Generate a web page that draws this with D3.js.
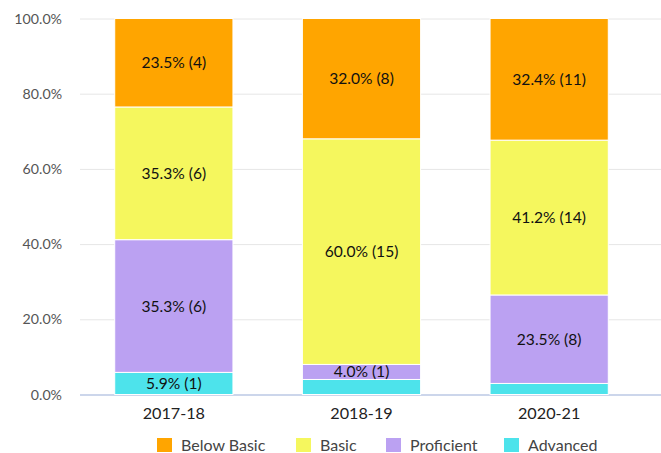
<!DOCTYPE html>
<html>
<head>
<meta charset="utf-8">
<script src="https://cdn.jsdelivr.net/npm/d3@7"></script>
<style>
  body { margin: 0; background: #fff; }
  svg { font-family: Lato, "Open Sans", sans-serif; display: block; }
</style>
</head>
<body>
<svg width="661" height="453"></svg>
<script>
const YEARS = ['2017-18', '2018-19', '2020-21'];
const LEVELS = ['Below Basic', 'Basic', 'Proficient', 'Advanced'];
// student counts per level, per year
const BELOW_BASIC = [4, 8, 11];
const BASIC = [6, 15, 14];
const PROFICIENT = [6, 1, 8];
const ADVANCED = [1, 1, 1];
const Y_TICKS = [0, 0.2, 0.4, 0.6, 0.8, 1];
const COLORS = ['#FFA500', '#F5F75E', '#BBA1F2', '#4DE3EB'];

const counts = { 'Below Basic': BELOW_BASIC, 'Basic': BASIC, 'Proficient': PROFICIENT, 'Advanced': ADVANCED };

const rows = YEARS.map((yr, i) => {
    const row = { year: yr };
    let total = 0;
    LEVELS.forEach(l => { row[l] = counts[l][i]; total += counts[l][i]; });
    row.total = total;
    LEVELS.forEach(l => { row[l] = row[l] / total; });
    return row;
});

const svg = d3.select('svg');
const PLOT = { left: 80, right: 661, top: 18.5, bottom: 394.5 };

const x = d3.scaleBand().domain(YEARS).range([PLOT.left, 643]).paddingInner(0.37).paddingOuter(0.185);
const y = d3.scaleLinear().domain([0, 1]).range([PLOT.bottom, PLOT.top]);

// gridlines
svg.append('g')
    .selectAll('line')
    .data(Y_TICKS)
    .enter()
    .append('line')
    .attr('x1', PLOT.left)
    .attr('x2', PLOT.right)
    .attr('y1', d => y(d) + 0.5)
    .attr('y2', d => y(d) + 0.5)
    .attr('stroke', d => d === 0 ? '#ccd6eb' : '#e6e6e6')
    .attr('stroke-width', d => d === 0 ? 2 : 1);

// y axis labels
svg.append('g')
    .selectAll('text')
    .data(Y_TICKS)
    .enter()
    .append('text')
    .attr('x', 62)
    .attr('y', d => y(d) + 5)
    .attr('text-anchor', 'end')
    .attr('font-size', 14.2)
    .attr('fill', '#555')
    .text(d => d3.format('.1%')(d));

// stacked bars, bottom = Advanced
const stack = d3.stack().keys(LEVELS.slice().reverse());
const series = stack(rows);

const groups = svg.append('g')
    .selectAll('g')
    .data(series)
    .enter()
    .append('g')
    .attr('fill', d => COLORS[LEVELS.indexOf(d.key)]);

groups.selectAll('rect')
    .data(d => d)
    .enter()
    .append('rect')
    .attr('x', d => x(d.data.year))
    .attr('width', x.bandwidth())
    .attr('y', d => y(d[1]))
    .attr('height', d => y(d[0]) - y(d[1]))
    .attr('stroke', '#fff')
    .attr('stroke-width', 1);

// data labels, top series first, skip small / overlapping ones
const labels = svg.append('g');
YEARS.forEach((yr, i) => {
    let lastY = null;
    LEVELS.forEach(l => {
        const s = series.find(sr => sr.key === l)[i];
        const h = y(s[0]) - y(s[1]);
        const cy = (y(s[0]) + y(s[1])) / 2;
        if (h < 12) return;
        if (lastY !== null && Math.abs(lastY - cy) < 17) return;
        lastY = cy;
        labels.append('text')
            .attr('x', x(yr) + x.bandwidth() / 2)
            .attr('y', cy + 5.5)
            .attr('text-anchor', 'middle')
            .attr('font-size', 15.6)
            .attr('fill', '#111')
            .text(d3.format('.1%')(rows[i][l]) + ' (' + counts[l][i] + ')');
    });
});

// x axis labels
svg.append('g')
    .selectAll('text')
    .data(YEARS)
    .enter()
    .append('text')
    .attr('x', d => x(d) + x.bandwidth() / 2)
    .attr('y', 419)
    .attr('text-anchor', 'middle')
    .attr('font-size', 16.2)
    .attr('fill', '#222')
    .text(d => d);

// legend
const LEGEND_X = [157, 296, 386, 504];
const legend = svg.append('g')
    .selectAll('g')
    .data(LEVELS)
    .enter()
    .append('g')
    .attr('transform', (d, i) => `translate(${LEGEND_X[i]}, 438)`);

legend.append('rect')
    .attr('width', 15)
    .attr('height', 14)
    .attr('fill', (d, i) => COLORS[i]);

legend.append('text')
    .attr('x', 24)
    .attr('y', 12.5)
    .attr('font-size', 16)
    .attr('fill', '#444')
    .text(d => d);
</script>
</body>
</html>
